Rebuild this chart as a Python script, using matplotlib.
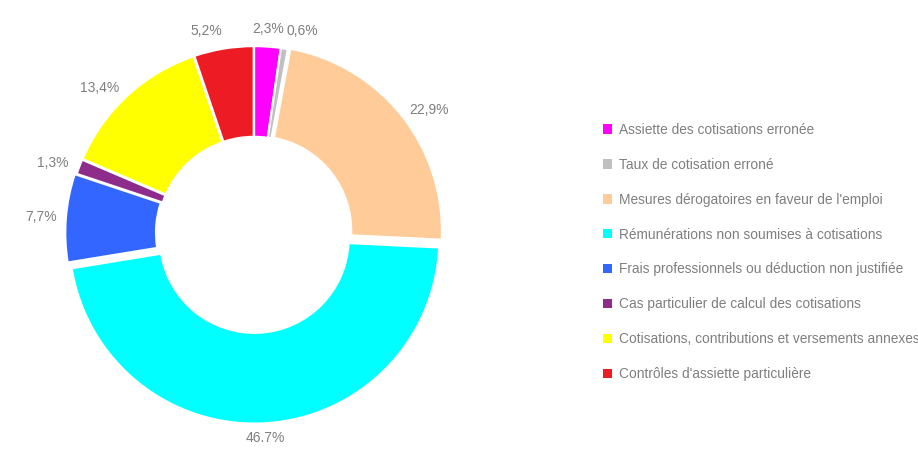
import matplotlib
matplotlib.use("Agg")
import matplotlib.pyplot as plt
import matplotlib.patches as mpatches
import numpy as np

plt.rcParams['font.family'] = ['Liberation Sans', 'DejaVu Sans']

categories = [
    "Assiette des cotisations erronée",
    "Taux de cotisation erroné",
    "Mesures dérogatoires en faveur de l'emploi",
    "Rémunérations non soumises à cotisations",
    "Frais professionnels ou déduction non justifiée",
    "Cas particulier de calcul des cotisations",
    "Cotisations, contributions et versements annexes",
    "Contrôles d'assiette particulière",
]
values = [2.3, 0.6, 22.9, 46.7, 7.7, 1.3, 13.4, 5.2]
labels = ["2,3%", "0,6%", "22,9%", "46.7%", "7,7%", "1,3%", "13,4%", "5,2%"]
colors = ["#FF00FF", "#C0C0C0", "#FFCC99", "#00FFFF", "#3366FF", "#8E2C8C", "#FFFF00", "#ED1C24"]
explode = [0.01, 0.01, 0.02, 0.03, 0.02, 0.01, 0.01, 0.01]

W, H = 918, 453
fig = plt.figure(figsize=(W / 100, H / 100), dpi=100)

cx, cy, R = 254, 233, 185
lim = 1.3
size = 2 * lim * R
ax = fig.add_axes([(cx - size / 2) / W, (H - cy - size / 2) / H, size / W, size / H])
wedges, _ = ax.pie(values, colors=colors, startangle=90, counterclock=False,
                   explode=explode, radius=1.0,
                   wedgeprops=dict(width=0.49, edgecolor="white", linewidth=1.5))
ax.set_xlim(-lim, lim)
ax.set_ylim(-lim, lim)
ax.set_aspect("equal")
ax.axis("off")

txt_color = "#7F7F7F"
total = sum(values)
start = 90.0
for v, lab in zip(values, labels):
    span = v / total * 360
    mid = np.deg2rad(start - span / 2)
    start -= span
    r = 1.07
    x, y = r * np.cos(mid), r * np.sin(mid)
    c = np.cos(mid)
    if abs(c) < 0.15:
        ha = "center"
    elif c > 0:
        ha = "left"
    else:
        ha = "right"
    s = np.sin(mid)
    va = "center"
    if s > 0.9:
        va = "bottom"
    elif s < -0.9:
        va = "top"
    ax.text(x, y, lab, ha=ha, va=va, fontsize=10, color=txt_color)

handles = [mpatches.Patch(facecolor=col, edgecolor="none") for col in colors]
leg = fig.legend(handles, categories, loc="center left",
                 bbox_to_anchor=(603 / W, 1 - 252 / H), frameon=False,
                 fontsize=9.9, handlelength=0.68, handleheight=0.68,
                 handletextpad=0.45, labelspacing=1.52,
                 borderpad=0, borderaxespad=0)
for t in leg.get_texts():
    t.set_color(txt_color)

fig.savefig("out.png", dpi=100)
